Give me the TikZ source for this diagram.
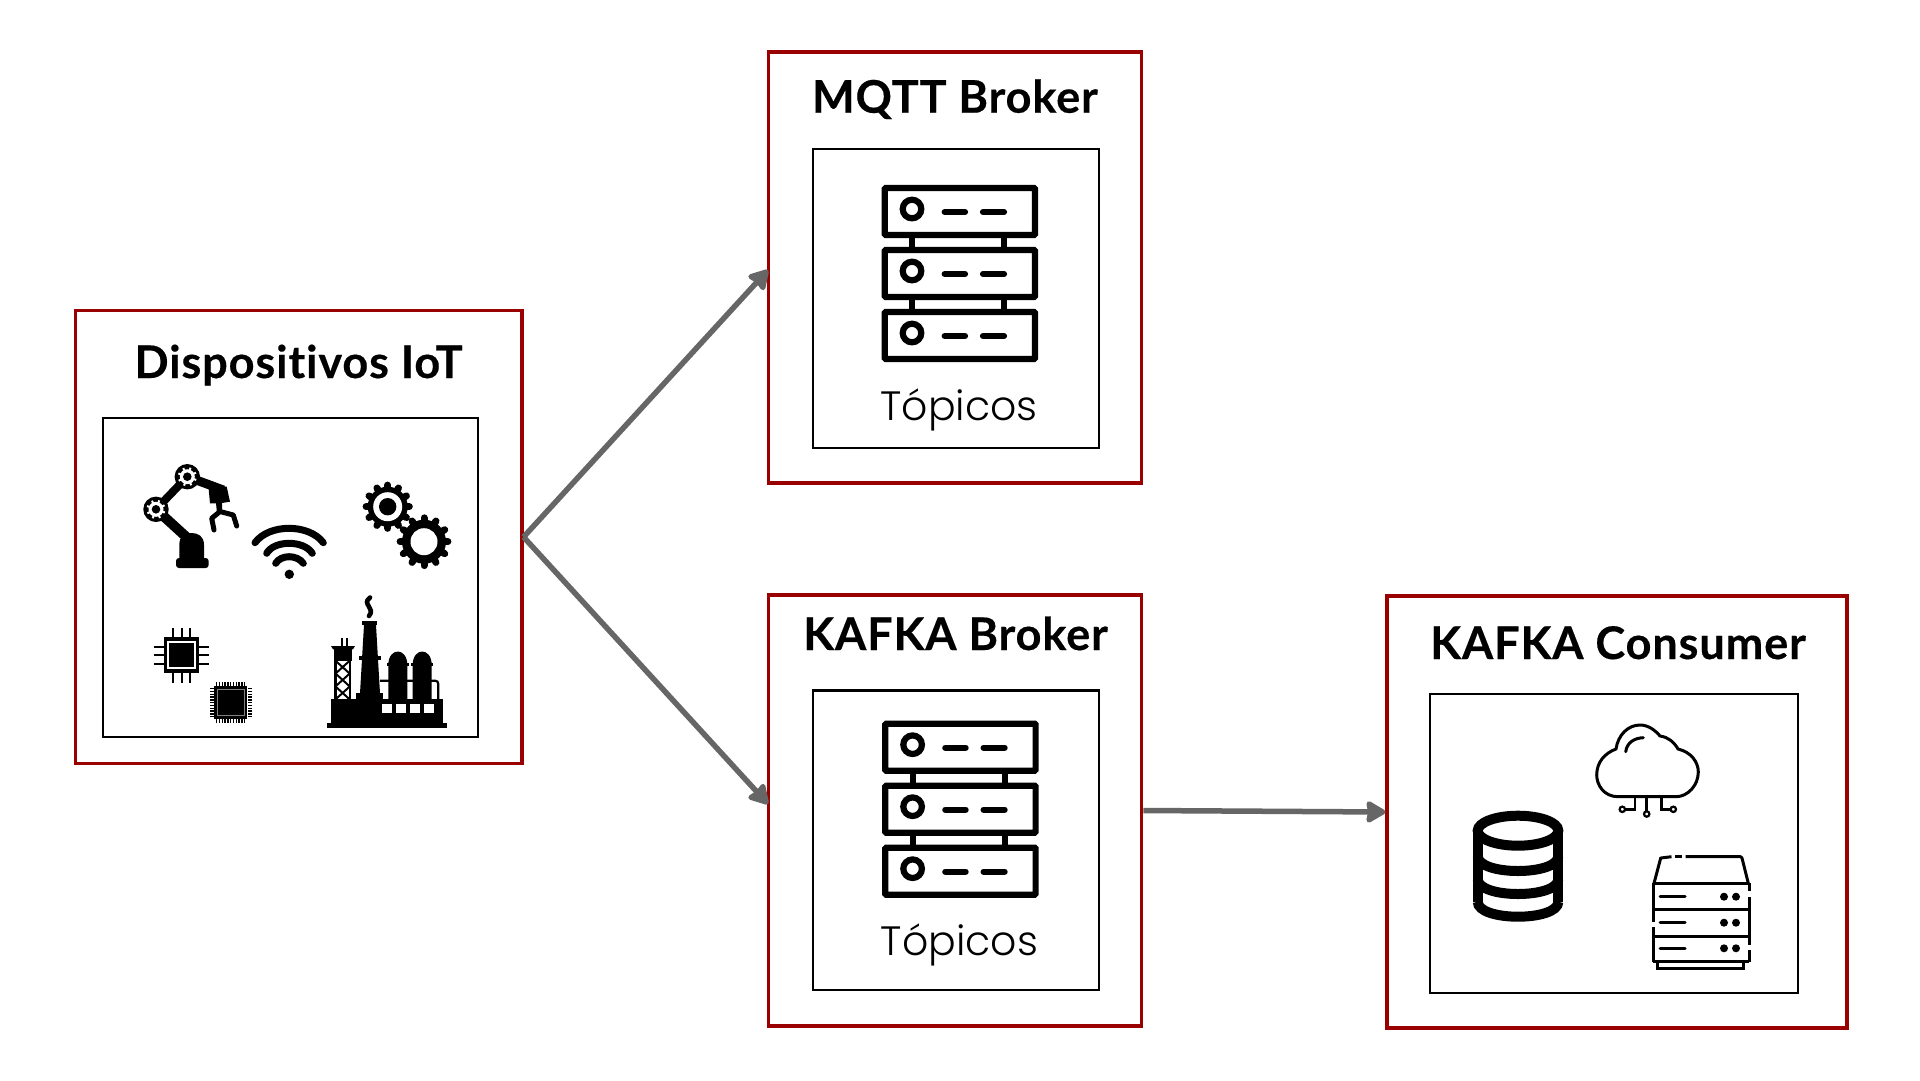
\documentclass[tikz,border=0pt]{standalone}
\usepackage{fontspec}
\setmainfont{Lato}[Ligatures=NoCommon,BoldFeatures={FakeBold=0.35,LetterSpace=2.0}]
\newfontfamily\lightfont{Poppins Light}
\usetikzlibrary{arrows.meta,calc}
\definecolor{boxred}{HTML}{990000}
\definecolor{linkgray}{HTML}{666666}

% gear: x, y, root radius, tip radius
\newcommand{\gearwheel}[4]{
  \fill (#1,#2) circle (#3);
  \foreach \a in {0,30,...,330}
    \draw[line width=7,line cap=round] ($(#1,#2)+(\a:#3-1)$) -- ($(#1,#2)+(\a:#4-3.4)$);
}
% robot joint: white cog on a black disc
\newcommand{\armjoint}[2]{
  \fill (#1,#2) circle (12.7);
  \fill[white] (#1,#2) circle (7.5);
  \foreach \a in {0,45,...,315}
    \draw[white,line width=2] ($(#1,#2)+(\a+20:7)$) -- ($(#1,#2)+(\a+20:9.5)$);
  \fill (#1,#2) circle (4.3);
}

\tikzset{rack icon/.pic={
  \foreach \r in {0,62,124} {
    \draw[line width=6.2,rounded corners=1] (3,{3+\r}) rectangle (153.3,{50+\r});
    \draw[line width=6.2] (30.3,{24+\r}) circle (9.3);
    \draw[line width=6.2,line cap=round] (63,{27+\r}) -- (83.3,{27+\r});
    \draw[line width=6.2,line cap=round] (101.3,{27+\r}) -- (122.3,{27+\r});
  }
  \foreach \r in {0,62} {
    \draw[line width=6.2] (30.3,{50+\r}) -- (30.3,{65+\r});
    \draw[line width=6.2] (122.3,{50+\r}) -- (122.3,{65+\r});
  }
}}

\begin{document}
\begin{tikzpicture}[x=1pt,y=-1pt,
  red box/.style={rectangle,draw=boxred,line width=3.2pt,inner sep=0pt},
  black box/.style={rectangle,draw=black,line width=2.3pt,inner sep=0pt},
  title/.style={anchor=base,inner sep=0pt,font=\fontsize{45}{50}\selectfont\bfseries},
  topics/.style={anchor=base,inner sep=0pt,font=\fontsize{41}{46}\selectfont\lightfont},
  link/.style={-{Stealth[length=22pt,width=25pt,inset=2pt,round]},line width=5.5pt,draw=linkgray}]

\useasboundingbox (0,0) rectangle (1920,1080);
\fill[white] (0,0) rectangle (1920,1080);

\node[red box,minimum width=446.5pt,minimum height=452.5pt](iot) at (298.7,537){};
\node[black box,minimum width=375pt,minimum height=319pt](iotinner) at (290.5,577.5){};
\node[title](iottitle) at (298.5,378){Dispositivos IoT};

\node[red box,minimum width=373pt,minimum height=431pt](mqtt) at (954.7,267.5){};
\node[black box,minimum width=286pt,minimum height=299pt](mqttinner) at (956,298.5){};
\node[title](mqtttitle) at (955,112.7){MQTT Broker};
\node[topics](mqtttopics) at (959,420){Tópicos};

\node[red box,minimum width=373.5pt,minimum height=431pt](kafka) at (955,810.5){};
\node[black box,minimum width=286.5pt,minimum height=299.5pt](kafkainner) at (956,840.3){};
\node[title](kafkatitle) at (955.5,650){KAFKA Broker};
\node[topics](kafkatopics) at (959.5,955){Tópicos};

\node[red box,minimum width=460pt,minimum height=432pt](consumer) at (1617,812){};
\node[black box,minimum width=368pt,minimum height=299pt](consumerinner) at (1614,843.5){};
\node[title](consumertitle) at (1618,659){KAFKA Consumer};

\coordinate (mqttin) at (768,270);
\coordinate (kafkain) at (768,804);

\path
(iot.east) edge[link] (mqttin)
(iot.east) edge[link] (kafkain)
(kafka.east) edge[link] (consumer.west);

\pic at (881.7,185) {rack icon};
\pic at (882.3,720.7) {rack icon};

% robot arm
\draw[line width=8] (156,509.3) -- (187.3,476.7);
\draw[line width=10] (156,509.3) -- (186.7,537.3);
\draw[line width=9] (187.3,476.7) -- (223.3,490);
\fill (208.3,485) -- (226.7,486.7) -- (230,501.7) -- (222,503) -- (222,513) -- (217,513) -- (216,503.3) -- (210,503.3) -- cycle;
\draw[line width=5,line cap=round,line join=round] (214,530) -- (211.7,518.3) -- (220,511.5) -- (233.3,515) -- (236.7,526);
\armjoint{156}{509.3}
\armjoint{187.3}{476.7}
\fill (179.3,560) -- (179.3,545) .. controls (179.3,536) and (185,533) .. (191.5,533) .. controls (198,533) and (204,536) .. (204,545) -- (204,560) -- cycle;
\fill[rounded corners=3] (176,558) rectangle (208.7,568);

% wifi
\fill (289.3,574.3) circle (4.7);
\draw[line width=7,line cap=round] (255,542.7) .. controls (269,523.5) and (309,523.5) .. (323.3,542.7);
\draw[line width=7,line cap=round] (266.7,553.3) .. controls (274,540) and (304,540) .. (312.3,553.3);
\draw[line width=7,line cap=round] (275.7,563.3) .. controls (281,554.5) and (297,554.5) .. (303.3,563.3);

% gears
\gearwheel{387.7}{506.7}{20}{25}
\fill[white] (387.7,506.7) circle (14.5);
\fill (387.7,506.7) circle (8.7);
\gearwheel{424}{541.7}{22}{27.3}
\fill[white] (424,541.7) circle (13.5);

% chips
\foreach \p in {172.7,181.7,190} \draw[line width=1.8] (\p,628) -- (\p,682.7);
\foreach \p in {646.7,655,663.7} \draw[line width=1.8] (154,\p) -- (208.7,\p);
\fill (164,637.3) rectangle (199.3,672.7);
\draw[white,line width=1.8] (168.3,641.7) rectangle (195,668.3);
\draw[line width=4,dash pattern=on 1.4pt off 1.4pt] (216,683.5) -- (246,683.5);
\draw[line width=4,dash pattern=on 1.4pt off 1.4pt] (216,721) -- (246,721);
\draw[line width=4,dash pattern=on 1.4pt off 1.4pt] (211.7,688) -- (211.7,717);
\draw[line width=4,dash pattern=on 1.4pt off 1.4pt] (249.7,688) -- (249.7,717);
\fill (214,686) rectangle (247.3,718.7);
\draw[gray,line width=0.7] (217.5,689.5) rectangle (244,715);

% factory
\fill (331,699.3) rectangle (442.7,723.3);
\fill (327.3,723.3) rectangle (446.7,727.7);
\foreach \p in {382.3,396.3,410.3,424.3} \fill[white] (\p,704.3) rectangle (\p+9.4,713.3);
\fill (362.3,621) rectangle (377.3,625);
\fill (364,625) -- (376,625) -- (380,693.3) -- (360,693.3) -- cycle;
\fill (359.3,655.7) rectangle (380.7,660);
\fill (356,693.3) rectangle (383.3,699.3);
\draw[line width=4.6,line cap=round] (370,597.5) .. controls (361,604) and (376,608) .. (369,616);
\foreach \p in {388.3,412.7} {
  \fill (\p,700) -- (\p,665) .. controls (\p,647) and (\p+19,647) .. (\p+19,665) -- (\p+19,700) -- cycle;
  \fill (\p-1.3,663) rectangle (\p+20.3,666);
}
\draw[line width=2.2] (380,680.7) -- (431.7,680.7) .. controls (438.3,680.7) .. (438.3,688) -- (438.3,699.3);
\fill (331,646) -- (355,646) -- (353,649.3) -- (333,649.3) -- cycle;
\fill (334,649.3) rectangle (351.7,660.7);
\draw[line width=2.2] (342,638.3) -- (342,646) (347.3,638.3) -- (347.3,646);
\draw[line width=2.4] (335.5,660.7) -- (335.5,699.3) (349.7,660.7) -- (349.7,699.3);
\foreach \p in {660.7,673.5,686.5} \draw[line width=2] (335.5,\p) -- (349.7,\p+12.9) (349.7,\p) -- (335.5,\p+12.9);

% cloud
\draw[line width=3,line join=round] (1618,796.7)
  .. controls (1604,796.7) and (1596.7,785) .. (1596.7,775)
  .. controls (1596.7,762) and (1605,753) .. (1616,749)
  .. controls (1618,735) and (1628,725) .. (1640,725)
  .. controls (1648,725) and (1655,730) .. (1660,736)
  .. controls (1668,737) and (1674,742) .. (1678,749)
  .. controls (1691,752) and (1698.3,762) .. (1698.3,772)
  .. controls (1698.3,785) and (1688,796.7) .. (1676,796.7) -- cycle;
\draw[line width=3,line cap=round] (1625.7,751.7) .. controls (1627,742) and (1635,738) .. (1643.3,737.7);
\draw[line width=2.7] (1635,796.7) -- (1635,809.3) -- (1625,809.3);
\draw[line width=2.7] (1661.7,796.7) -- (1661.7,809.3) -- (1670.5,809.3);
\draw[line width=2.7] (1646.7,796.7) -- (1646.7,811);
\draw[line width=2.2] (1622.3,809.3) circle (2.7);
\draw[line width=2.2] (1673.3,809.3) circle (2.7);
\draw[line width=2.2] (1646.7,814) circle (2.7);

% database
\draw[line width=10] (1518,830.7) ellipse (40.3 and 15);
\draw[line width=10] (1477.7,830.7) -- (1477.7,901.7) (1558.3,830.7) -- (1558.3,901.7);
\foreach \p in {856,879,901.7}
  \draw[line width=10] (1477.7,\p) .. controls (1477.7,\p+20) and (1558.3,\p+20) .. (1558.3,\p);

% server tower
\draw[line width=3,line join=round] (1654,883.3) -- (1660.7,858) -- (1671.5,856.7);
\draw[line width=3] (1675,856.7) -- (1682,856.7);
\draw[line width=3,line join=round] (1685.7,856.7) -- (1740.5,856.7) -- (1742,858) -- (1748.3,883.3);
\foreach \p in {883.3,909,936.7,961.7} \draw[line width=3] (1653,\p) -- (1749,\p);
\draw[line width=3] (1653,883.3) -- (1653,922) (1653,927) -- (1653,961.7);
\draw[line width=3] (1749,883.3) -- (1749,891) (1749,897) -- (1749,945) (1749,950) -- (1749,961.7);
\draw[line width=3] (1657.5,961.7) -- (1657.5,968.3) -- (1743.7,968.3) -- (1743.7,961.7);
\foreach \p in {896.7,922.7,948.3} {
  \draw[line width=3,line cap=round] (1660,\p) -- (1685,\p);
  \fill (1724,\p) circle (4);
  \fill (1736,\p) circle (4);
}
\end{tikzpicture}
\end{document}
